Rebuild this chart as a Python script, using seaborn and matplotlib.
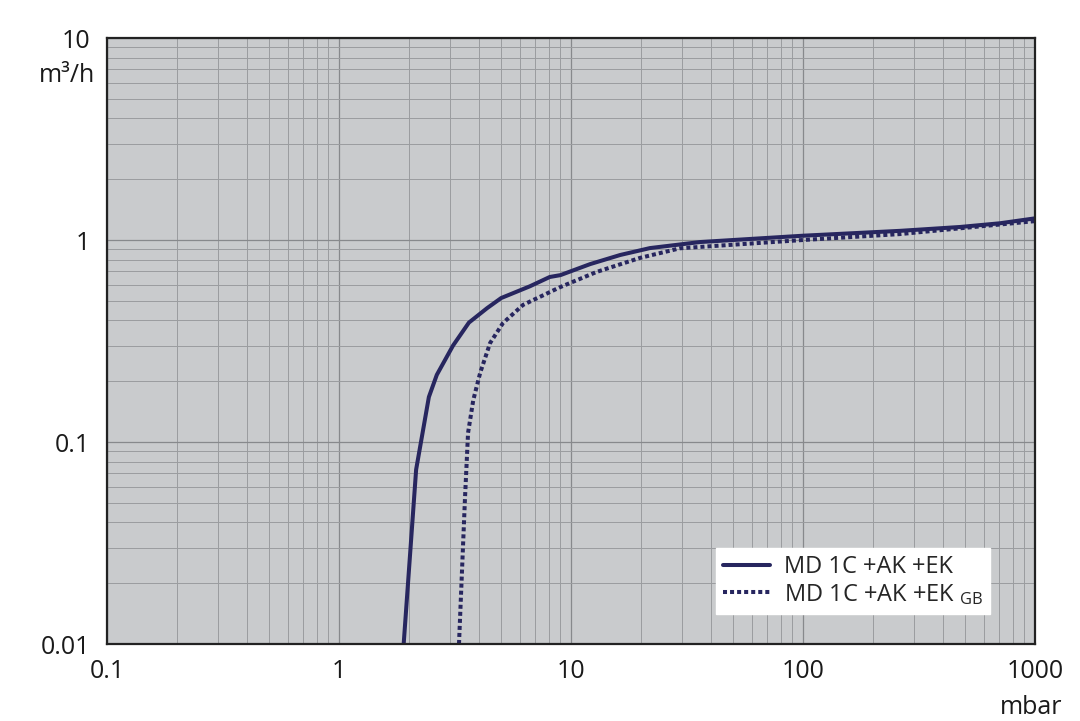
import matplotlib
matplotlib.use("Agg")
import matplotlib.pyplot as plt
import seaborn as sns
import pandas as pd
from matplotlib.ticker import LogLocator, FixedLocator, NullFormatter

# pumping speed curves
p_solid = [1.9, 2.15, 2.44, 2.64, 3.1, 3.63, 4.35, 5.0, 6.65, 8.1, 9.0, 12.1, 16.3, 21.9, 36, 100, 262, 475, 706, 1000]
s_solid = [0.01, 0.073, 0.167, 0.215, 0.30, 0.39, 0.46, 0.516, 0.59, 0.656, 0.67, 0.76, 0.843, 0.912, 0.977, 1.05, 1.11, 1.16, 1.21, 1.28]

p_gb = [3.29, 3.49, 3.6, 3.79, 4.06, 4.48, 5.09, 6.21, 9.0, 12.9, 19.8, 29.5, 100, 262, 1000]
s_gb = [0.01, 0.052, 0.111, 0.161, 0.22, 0.309, 0.388, 0.477, 0.585, 0.695, 0.815, 0.91, 1.0, 1.07, 1.24]

label_solid = "MD 1C +AK +EK"
label_gb = r"MD 1C +AK +EK $\mathregular{_{GB}}$"

x_ticks = [0.1, 1, 10, 100, 1000]
x_labels = ["0.1", "1", "10", "100", "1000"]
y_ticks = [0.01, 0.1, 1, 10]
y_labels = ["0.01", "0.1", "1", "10"]

navy = "#27265f"

sns.set_style("whitegrid", {"axes.facecolor": "#c9cbcd", "axes.edgecolor": "#222222",
                            "grid.color": "#8f9093"})
plt.rcParams["font.family"] = ["Open Sans", "DejaVu Sans"]
plt.rcParams["mathtext.fontset"] = "custom"
plt.rcParams["mathtext.rm"] = "Open Sans"

fig = plt.figure(figsize=(10.8, 7.21), dpi=100)
ax = fig.add_axes([107 / 1080, 1 - 644 / 721, 928 / 1080, 606 / 721])

df1 = pd.DataFrame({"p": p_solid, "s": s_solid})
df2 = pd.DataFrame({"p": p_gb, "s": s_gb})
sns.lineplot(data=df1, x="p", y="s", ax=ax, color=navy, lw=2.9, label=label_solid, sort=False)
sns.lineplot(data=df2, x="p", y="s", ax=ax, color=navy, lw=2.9, label=label_gb, sort=False,
             linestyle=(0, (1.0, 0.75)))

ax.set_xscale("log")
ax.set_yscale("log")
ax.set_xlim(0.1, 1000)
ax.set_ylim(0.01, 10)

ax.xaxis.set_major_locator(FixedLocator(x_ticks))
ax.set_xticklabels(x_labels)
ax.yaxis.set_major_locator(FixedLocator(y_ticks))
ax.set_yticklabels(y_labels)
ax.xaxis.set_minor_locator(LogLocator(base=10, subs=range(2, 10), numticks=20))
ax.yaxis.set_minor_locator(LogLocator(base=10, subs=range(2, 10), numticks=20))
ax.xaxis.set_minor_formatter(NullFormatter())
ax.yaxis.set_minor_formatter(NullFormatter())
ax.grid(True, which="major", color="#87898c", lw=0.9)
ax.grid(True, which="minor", color="#9a9c9f", lw=0.7)
ax.tick_params(which="both", length=0, labelsize=18, colors="#1a1a1a")
ax.tick_params(axis="x", pad=11)
ax.tick_params(axis="y", pad=12)
for sp in ax.spines.values():
    sp.set_linewidth(1.6)
    sp.set_color("#222222")

ax.set_xlabel("")
ax.set_ylabel("")
fig.text(95 / 1080, 1 - 75 / 721, "m³/h", ha="right", va="center", fontsize=18, color="#1a1a1a")
fig.text(1062 / 1080, 1 - 708 / 721, "mbar", ha="right", va="center", fontsize=18, color="#1a1a1a")

leg = ax.legend(loc="lower right", bbox_to_anchor=(0.952, 0.05), borderaxespad=0,
                fontsize=17, frameon=True, fancybox=False, framealpha=1,
                handlelength=2.0, handletextpad=0.6, labelspacing=0.1, borderpad=0.3)
leg.get_frame().set_edgecolor("white")
leg.get_frame().set_facecolor("white")

fig.savefig("out.png", dpi=100)
